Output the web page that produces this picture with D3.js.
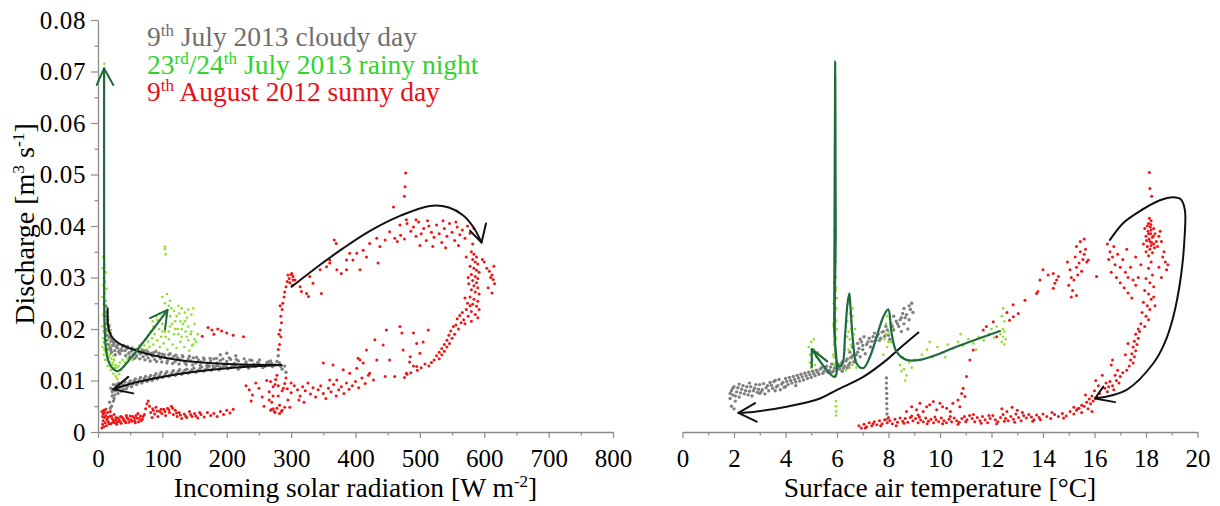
<!DOCTYPE html>
<html><head><meta charset="utf-8">
<script src="https://cdn.jsdelivr.net/npm/d3@7"></script>
<style>
body{margin:0;background:#fff}
</style></head><body>
<svg id="c" width="1220" height="506"></svg>
<script>
// ---------- ticks ----------
const yTicks = [0,0.01,0.02,0.03,0.04,0.05,0.06,0.07,0.08];
const yMinor = [0.005,0.015,0.025,0.035,0.045,0.055,0.065,0.075];
const solarTicks = [0,100,200,300,400,500,600,700,800];
const solarMinor = [50,150,250,350,450,550,650,750];
const tempTicks = [0,2,4,6,8,10,12,14,16,18,20];
const tempMinor = [1,3,5,7,9,11,13,15,17,19];

// ---------- series: solar radiation (W m-2) vs discharge (m3 s-1) ----------
const solarCloudy = [
[12,0.0245],[14,0.0232],[11,0.0225],[15,0.0218],[13,0.0210],[17,0.0205],[12,0.0200],[16,0.0196],[19,0.0192],[14,0.0188],[18,0.0184],[22,0.0180],[13,0.0178],[20,0.0176],[25,0.0172],[16,0.0170],[23,0.0168],[28,0.0166],[19,0.0164],[30,0.0163],[14,0.0160],[26,0.0158],[35,0.0160],[21,0.0155],[32,0.0156],
[38,0.0165],[42,0.0158],[45,0.0162],[48,0.0153],[52,0.0157],[55,0.0150],[58,0.0160],[60,0.0148],[63,0.0155],[66,0.0152],[70,0.0146],[72,0.0158],[75,0.0150],[78,0.0144],[82,0.0153],[85,0.0147],[88,0.0141],[90,0.0156],[94,0.0149],[97,0.0143],[100,0.0151],[104,0.0145],[108,0.0139],[110,0.0150],[114,0.0143],[118,0.0147],[120,0.0137],[124,0.0144],[128,0.0140],[132,0.0146],[135,0.0135],[140,0.0142],[144,0.0138],[148,0.0144],[152,0.0134],[156,0.0140],[160,0.0136],[165,0.0141],[170,0.0133],[175,0.0138],[180,0.0142],[185,0.0134],[190,0.0139],[196,0.0131],[200,0.0137],[206,0.0141],[212,0.0133],[218,0.0138],[224,0.0130],[230,0.0136],[236,0.0140],[242,0.0131],[248,0.0135],[255,0.0129],[262,0.0134],[268,0.0138],[275,0.0130],[282,0.0134],[290,0.0128],
[190,0.0150],[200,0.0153],[214,0.0148],[280,0.0148],[286,0.0122],[292,0.0116],
[20,0.0160],[24,0.0175],[27,0.0150],[31,0.0170],[34,0.0152],[37,0.0158],[40,0.0168],[43,0.0148],[46,0.0166],[49,0.0145],[53,0.0163],[57,0.0143],[61,0.0161],[65,0.0142],[69,0.0159],[73,0.0140],[77,0.0156],[81,0.0138],[86,0.0154],[91,0.0137],[95,0.0153],[99,0.0136],[103,0.0150],[107,0.0134],[112,0.0152],[116,0.0133],[121,0.0149],[126,0.0132],[131,0.0148],[137,0.0131],[142,0.0147],[147,0.0130],[153,0.0145],[159,0.0129],[164,0.0144],[169,0.0128],[174,0.0143],[179,0.0128],[184,0.0143],[189,0.0127],[194,0.0142],[199,0.0127],[204,0.0144],[209,0.0128],[215,0.0141],[221,0.0127],[227,0.0142],[233,0.0127],[239,0.0139],[245,0.0128],[251,0.0140],[258,0.0127],[264,0.0136],[271,0.0127],[278,0.0137],[284,0.0127],
[20,0.0085],[22,0.0078],[24,0.0092],[26,0.0072],[28,0.0088],[25,0.0065],[30,0.0082],[32,0.0095],[34,0.0087],[36,0.0079],[40,0.0090],[44,0.0084],[48,0.0095],[52,0.0088],[56,0.0099],[60,0.0092],[64,0.0101],[68,0.0095],[72,0.0104],[76,0.0098],[80,0.0106],[84,0.0100],[88,0.0109],[92,0.0103],[96,0.0111],[100,0.0106],[105,0.0113],[110,0.0108],[115,0.0115],[120,0.0110],[125,0.0118],[130,0.0112],[135,0.0120],[140,0.0114],[146,0.0121],[152,0.0116],[158,0.0123],[164,0.0118],[170,0.0125],[176,0.0120],[182,0.0126],[188,0.0121],[195,0.0128],[202,0.0123],[210,0.0127],[218,0.0122],[226,0.0129],[234,0.0124],[244,0.0127],[256,0.0125],[266,0.0131],
[22,0.0070],[23,0.0082],[27,0.0080],[29,0.0092],[31,0.0075],[33,0.0090],[37,0.0094],[39,0.0083],[42,0.0097],[46,0.0089],[50,0.0099],[54,0.0093],[58,0.0103],[62,0.0096],[66,0.0106],[70,0.0099],[74,0.0108],[78,0.0101],[82,0.0110],[86,0.0104],[90,0.0113],[94,0.0107],[98,0.0116],[103,0.0109],[107,0.0117],[112,0.0111],[117,0.0119],[122,0.0113],[127,0.0121],[132,0.0115],[138,0.0122],[143,0.0117],[149,0.0124],[155,0.0119],[161,0.0126],[167,0.0121],[173,0.0128],[179,0.0123],[185,0.0129],[192,0.0124],[199,0.0130],[206,0.0125],[214,0.0130],[222,0.0126],[230,0.0132],[240,0.0128],[250,0.0132],[260,0.0128],[270,0.0133],
[18,0.0058],[21,0.0050],[24,0.0060],[19,0.0046]
];
const solarRainy = [
[9.8,0.0715],[8,0.0340],[10,0.0325],[7,0.0318],[12,0.0310],[9,0.0300],[11,0.0292],[8,0.0285],[13,0.0278],[10,0.0270],[7,0.0262],[12,0.0255],[9,0.0248],[14,0.0242],[11,0.0236],[8,0.0228],[16,0.0224],[10,0.0218],[13,0.0212],[7,0.0205],[18,0.0208],[15,0.0200],[9,0.0195],[20,0.0198],[12,0.0190],[17,0.0186],[8,0.0182],[22,0.0185],[14,0.0178],[10,0.0172],[19,0.0170],[7,0.0165],[16,0.0162],[12,0.0156],[9,0.0150],[20,0.0152],[14,0.0146],[24,0.0148],[11,0.0140],[18,0.0136],[22,0.0130],[15,0.0128],[26,0.0125],[20,0.0120],[30,0.0118],[24,0.0113],[28,0.0108],[33,0.0112],[36,0.0120],[40,0.0127],[30,0.0103],
[10,0.0160],[12,0.0170],[14,0.0155],[16,0.0180],[18,0.0150],[9,0.0175],[11,0.0185],[13,0.0195],[15,0.0140],[17,0.0145],[19,0.0158],[21,0.0142],[23,0.0135],[25,0.0140],[27,0.0130],[29,0.0125],[32,0.0128],[34,0.0135],[38,0.0140],
[42,0.0135],[46,0.0142],[50,0.0148],[54,0.0140],[58,0.0152],[62,0.0158],[60,0.0145],[66,0.0162],[70,0.0155],[72,0.0168],[76,0.0160],[78,0.0175],[80,0.0165],[84,0.0182],[86,0.0170],[88,0.0190],[90,0.0158],[92,0.0178],[95,0.0200],[96,0.0165],[98,0.0185],[100,0.0210],[102,0.0172],[104,0.0195],[106,0.0225],[108,0.0160],[110,0.0180],[112,0.0205],[114,0.0240],[116,0.0170],[118,0.0190],[120,0.0215],[122,0.0163],[124,0.0200],[126,0.0230],[128,0.0175],[130,0.0185],[132,0.0210],[134,0.0165],[136,0.0195],[138,0.0222],[140,0.0178],[142,0.0158],[144,0.0190],[146,0.0168],[150,0.0180],
[85,0.0215],[90,0.0225],[95,0.0215],[100,0.0195],[105,0.0185],[110,0.0195],[115,0.0210],[120,0.0200],[125,0.0190],[130,0.0200],[135,0.0215],[140,0.0205],[145,0.0195],[150,0.0210],[112,0.0255],[122,0.0225],[128,0.0215],[138,0.0185],[148,0.0170],[155,0.0190],[152,0.0175],
[100,0.0262],[104,0.0250],[107,0.0268],[110,0.0245],[112,0.0225],[118,0.0235],[125,0.0245],[130,0.0240],[135,0.0232],[140,0.0238],[145,0.0228],[148,0.0240],[104,0.0355],[105,0.0345],[104,0.0360],
[96,0.0230],[92,0.0218],[86,0.0205],[82,0.0195],[78,0.0188],[74,0.0180],[68,0.0172],[64,0.0168],[56,0.0160],[48,0.0155],[44,0.0150]
];
const solarSunny = [
[6,0.0040],[7,0.0030],[8,0.0022],[7,0.0015],[9,0.0010],[8,0.0035],[10,0.0028],[6,0.0008],[11,0.0018],[9,0.0042],[12,0.0032],[13,0.0012],[14,0.0024],[15,0.0038],[16,0.0020],[18,0.0030],[20,0.0016],[22,0.0026],[24,0.0022],[26,0.0018],[28,0.0028],[30,0.0020],[33,0.0024],[36,0.0017],[39,0.0026],[42,0.0021],[45,0.0028],[48,0.0019],[51,0.0024],[54,0.0030],[57,0.0022],[60,0.0027],[63,0.0020],[66,0.0031],[69,0.0025],[72,0.0034],[74,0.0045],[76,0.0055],[78,0.0060],[80,0.0050],[82,0.0038],[84,0.0028],[86,0.0042],[88,0.0035],[90,0.0048],[93,0.0030],[96,0.0040],[99,0.0036],[102,0.0044],[105,0.0032],[108,0.0046],[111,0.0038],[114,0.0050],[117,0.0034],[120,0.0042],[123,0.0030],[126,0.0038],[130,0.0026],[134,0.0035],[138,0.0028],[142,0.0040],[146,0.0030],[150,0.0036],[155,0.0027],[160,0.0034],[165,0.0029],[170,0.0038],[175,0.0032],[180,0.0036],[185,0.0030],[190,0.0040],[195,0.0034],[200,0.0042],[205,0.0037],[210,0.0044],[62,0.0036],[58,0.0018],[44,0.0032],[35,0.0030],[25,0.0034],[19,0.0040],[12,0.0044],[10,0.0038],
[15,0.0028],[17,0.0016],[21,0.0031],[23,0.0019],[27,0.0024],[29,0.0015],[31,0.0027],[34,0.0020],[37,0.0029],[40,0.0023],[43,0.0018],[47,0.0025],[50,0.0031],[53,0.0021],[56,0.0027],[59,0.0032],[64,0.0026],[67,0.0022],[70,0.0030],[85,0.0045],[92,0.0041],[98,0.0044],[104,0.0040],[110,0.0043],[116,0.0046],[122,0.0037],[128,0.0033],[136,0.0031],[144,0.0034],[152,0.0031],[158,0.0038],
[171,0.0203],[177,0.0198],[180,0.0190],[186,0.0200],[192,0.0196],[200,0.0192],[210,0.0188],[162,0.0186],[226,0.0185],
[230,0.0090],[235,0.0082],[240,0.0072],[238,0.0060],[245,0.0095],[250,0.0085],[255,0.0068],[258,0.0050],[262,0.0100],[266,0.0078],[270,0.0058],[272,0.0045],[275,0.0092],[278,0.0110],[280,0.0070],[282,0.0052],[285,0.0040],[288,0.0085],[292,0.0105],[295,0.0062],[298,0.0048],[300,0.0095],[275,0.0038],[268,0.0042],
[282,0.0170],[284,0.0185],[283,0.0198],[285,0.0212],[284,0.0225],[286,0.0238],[287,0.0250],[289,0.0262],[290,0.0272],[292,0.0282],[294,0.0292],[297,0.0298],[300,0.0306],[303,0.0302],[306,0.0295],[298,0.0290],[302,0.0285],[280,0.0160],[281,0.0190],[283,0.0245],
[303,0.0295],[314,0.0282],[324,0.0269],[329,0.0302],[334,0.0289],[345,0.0315],[347,0.0269],[355,0.0321],[360,0.0334],[371,0.0315],[378,0.0308],[386,0.0334],[391,0.0347],[402,0.0347],[407,0.0315],[412,0.0353],[417,0.0340],[422,0.0366],[433,0.0376],[438,0.0360],[446,0.0373],[453,0.0389],[461,0.0376],[469,0.0402],[479,0.0412],[370,0.0366],[367,0.0373],[435,0.0328],[360,0.0328],[386,0.0315],[396,0.0334],[316,0.0273],[327,0.0263],[295,0.0305],[301,0.0308],
[480,0.0405],[486,0.0390],[490,0.0398],[494,0.0380],[498,0.0408],[502,0.0385],[506,0.0395],[510,0.0372],[514,0.0400],[518,0.0388],[522,0.0378],[526,0.0402],[530,0.0385],[534,0.0368],[538,0.0395],[542,0.0380],[546,0.0405],[550,0.0388],[554,0.0372],[558,0.0398],[562,0.0383],[566,0.0392],[570,0.0376],[574,0.0400],[578,0.0386],[582,0.0365],[476,0.0375],[470,0.0382],[465,0.0370],[500,0.0362],[520,0.0360],[540,0.0358],[560,0.0362],[494,0.0412],[512,0.0410],[536,0.0410],[556,0.0408],[584,0.0395],
[478,0.0503],[477,0.0476],[476,0.0458],[459,0.0437],
[580,0.0350],[584,0.0345],[588,0.0340],[582,0.0335],[586,0.0330],[590,0.0326],[578,0.0322],[584,0.0318],[588,0.0314],[592,0.0310],[580,0.0306],[586,0.0302],[590,0.0298],[582,0.0294],[588,0.0290],[576,0.0288],[584,0.0284],[590,0.0280],[580,0.0276],[586,0.0272],[592,0.0268],[578,0.0262],[584,0.0258],[590,0.0254],[582,0.0248],[588,0.0244],[592,0.0238],[580,0.0234],[586,0.0228],[590,0.0222],[572,0.0340],[575,0.0300],[570,0.0260],[574,0.0250],
[604,0.0318],[608,0.0312],[612,0.0305],[614,0.0296],[616,0.0288],[610,0.0300],[606,0.0280],[612,0.0270],[615,0.0322],[600,0.0330],[597,0.0335],
[578,0.0245],[572,0.0238],[566,0.0232],[575,0.0225],[562,0.0226],[568,0.0218],[558,0.0220],[564,0.0212],[556,0.0208],[560,0.0200],[552,0.0205],[548,0.0196],[554,0.0190],[545,0.0188],[550,0.0182],[542,0.0178],[546,0.0172],[538,0.0170],[542,0.0165],[534,0.0162],[538,0.0157],[530,0.0155],[534,0.0150],[526,0.0148],[530,0.0142],[522,0.0140],[518,0.0135],[514,0.0128],[508,0.0132],[502,0.0125],[496,0.0120],[490,0.0128],[486,0.0115],[480,0.0112],[476,0.0106],[484,0.0136],[570,0.0210],[580,0.0215],
[448,0.0198],[469,0.0205],[472,0.0192],[490,0.0192],[495,0.0172],[505,0.0175],[513,0.0198],[430,0.0179],[443,0.0169],[453,0.0140],[474,0.0159],[485,0.0146],[500,0.0153],[417,0.0159],[433,0.0140],[407,0.0140],[422,0.0114],[446,0.0108],[461,0.0108],[479,0.0114],[495,0.0127],[381,0.0121],[391,0.0114],[402,0.0124],[404,0.0143],[412,0.0134],[428,0.0101],[371,0.0101],[360,0.0101],[350,0.0134],[365,0.0130],
[268,0.0098],[272,0.0088],[276,0.0102],[280,0.0090],[286,0.0080],[290,0.0094],[294,0.0084],[300,0.0076],[305,0.0090],[310,0.0082],[314,0.0070],[318,0.0088],[322,0.0080],[326,0.0095],[330,0.0074],[334,0.0086],[338,0.0068],[342,0.0082],[346,0.0090],[350,0.0075],[354,0.0065],[358,0.0085],[362,0.0078],[366,0.0092],[370,0.0070],[374,0.0082],[378,0.0088],[382,0.0075],[386,0.0095],[390,0.0083],[395,0.0090],[400,0.0098],[405,0.0086],[410,0.0105],[415,0.0094],[420,0.0110],[312,0.0062],[320,0.0058],[270,0.0044],[274,0.0040],[278,0.0046],[282,0.0036],[286,0.0042],[290,0.0048],[266,0.0062],[272,0.0070]
];

// ---------- series: air temperature (°C) vs discharge (m3 s-1) ----------
const tempCloudy = [
[1.85,0.0065],[1.9,0.0080],[1.95,0.0072],[2.0,0.0088],[2.05,0.0060],[2.1,0.0078],[2.2,0.0068],[2.3,0.0083],[2.4,0.0074],[2.5,0.0088],[2.6,0.0079],[2.7,0.0070],[2.8,0.0085],[2.9,0.0077],[3.0,0.0092],[3.1,0.0082],[3.2,0.0074],[3.3,0.0090],[3.4,0.0096],[3.5,0.0085],[3.6,0.0100],[3.7,0.0090],[3.8,0.0082],[3.9,0.0096],[4.0,0.0104],[4.1,0.0092],[4.2,0.0100],[4.3,0.0108],[4.4,0.0097],[4.5,0.0105],[4.6,0.0112],[4.7,0.0101],[4.8,0.0109],[4.9,0.0116],[5.0,0.0106],[5.1,0.0113],[2.2,0.0093],[2.6,0.0095],[3.0,0.0075],[3.6,0.0080],[4.0,0.0088],[4.4,0.0090],[1.9,0.0050],[2.0,0.0045],
[1.85,0.0075],[1.95,0.0085],[2.05,0.0070],[2.15,0.0086],[2.25,0.0076],[2.35,0.0090],[2.45,0.0080],[2.55,0.0072],[2.65,0.0088],[2.75,0.0080],[2.85,0.0092],[2.95,0.0083],[3.05,0.0078],[3.15,0.0094],[3.25,0.0086],[3.35,0.0080],[3.45,0.0091],[3.55,0.0098],[3.65,0.0088],[3.75,0.0102],[3.85,0.0093],[3.95,0.0087],[4.05,0.0098],[4.15,0.0106],[4.25,0.0095],[4.35,0.0102],[4.45,0.0110],[4.55,0.0099],[4.65,0.0107],[4.75,0.0114],[4.85,0.0104],[4.95,0.0111],[5.05,0.0118],[5.15,0.0109],[5.25,0.0116],[5.35,0.0122],[5.45,0.0114],[5.55,0.0124],[5.65,0.0116],[5.75,0.0126],[5.85,0.0118],[6.05,0.0126],[6.15,0.0132],[6.25,0.0124],[6.35,0.0138],[6.45,0.0130],[6.55,0.0144],[6.65,0.0136],[6.75,0.0150],[6.85,0.0162],[6.95,0.0175],[7.05,0.0185],[7.15,0.0170],[7.25,0.0182],[7.35,0.0176],[7.45,0.0192],[7.55,0.0185],[7.65,0.0178],[7.75,0.0194],[7.85,0.0186],[7.95,0.0198],[8.15,0.0205],[8.35,0.0210],[8.45,0.0218],[8.55,0.0230],[8.65,0.0222],[8.8,0.0245],[8.95,0.0232],
[5.2,0.0120],[5.3,0.0112],[5.4,0.0125],[5.5,0.0118],[5.6,0.0128],[5.7,0.0120],[5.8,0.0132],[5.9,0.0124],[6.0,0.0130],[6.1,0.0122],[6.2,0.0136],[6.3,0.0128],[6.4,0.0142],[6.5,0.0134],[6.6,0.0148],[6.7,0.0140],[6.8,0.0155],[6.9,0.0146],[7.0,0.0160],[7.1,0.0152],[6.6,0.0165],[6.8,0.0172],[6.9,0.0180],[7.0,0.0168],[7.2,0.0175],[7.3,0.0165],[7.4,0.0185],[7.5,0.0178],[7.6,0.0190],[7.7,0.0182],[6.5,0.0155],[6.2,0.0118],[5.8,0.0116],[6.4,0.0125],
[7.8,0.0195],[7.9,0.0205],[8.0,0.0188],[8.1,0.0210],[8.2,0.0198],[8.3,0.0215],[8.4,0.0205],[8.5,0.0222],[8.6,0.0210],[8.7,0.0228],[8.8,0.0218],[8.85,0.0238],[8.9,0.0250],[8.75,0.0200],[8.5,0.0195],[8.2,0.0225],[8.05,0.0180],[8.6,0.0240],
[7.92,0.0105],[7.92,0.0095],[7.92,0.0085],[7.93,0.0075],[7.93,0.0065],[7.93,0.0055],[7.94,0.0045],[7.94,0.0035],[7.94,0.0025]
];
const tempRainy = [
[5.92,0.0430],[5.93,0.0410],[5.91,0.0390],[5.94,0.0370],[5.92,0.0350],[5.95,0.0330],[5.90,0.0315],[5.96,0.0300],[5.88,0.0290],[5.97,0.0280],[5.90,0.0270],[5.95,0.0260],[5.87,0.0250],[5.98,0.0240],[5.89,0.0230],[5.94,0.0220],[5.86,0.0210],[5.99,0.0200],[5.91,0.0190],[5.96,0.0180],[5.88,0.0170],[5.93,0.0160],[5.85,0.0150],[5.98,0.0140],[5.90,0.0130],[5.95,0.0120],[5.92,0.0110],[5.96,0.0060],[5.95,0.0050],[5.97,0.0040],[5.96,0.0032],
[5.90,0.0125],[5.94,0.0135],[5.88,0.0145],[5.96,0.0155],[5.92,0.0165],[5.89,0.0175],[5.95,0.0185],[5.93,0.0195],[5.87,0.0205],[5.97,0.0215],[5.91,0.0225],[5.93,0.0235],[6.0,0.0260],[5.95,0.0275],
[4.9,0.0165],[4.95,0.0150],[5.0,0.0175],[5.05,0.0140],[5.1,0.0160],[5.15,0.0130],[5.0,0.0125],[5.2,0.0145],[4.95,0.0135],[5.1,0.0180],[5.25,0.0155],
[6.35,0.0120],[6.4,0.0140],[6.45,0.0160],[6.5,0.0180],[6.55,0.0200],[6.4,0.0215],[6.5,0.0230],[6.6,0.0225],[6.65,0.0190],[6.7,0.0150],[6.75,0.0125],[6.45,0.0250],[6.55,0.0170],[6.6,0.0130],[6.3,0.0160],[6.7,0.0200],
[6.4,0.0185],[6.5,0.0145],[6.55,0.0215],[6.6,0.0165],[6.62,0.0240],[6.45,0.0195],[6.5,0.0125],
[7.8,0.0150],[7.85,0.0180],[7.9,0.0210],[7.95,0.0165],[8.0,0.0195],[8.05,0.0220],[8.1,0.0175],[8.15,0.0150],[8.2,0.0200],[7.9,0.0190],[8.0,0.0175],[8.1,0.0200],[7.95,0.0225],
[8.45,0.0130],[8.5,0.0118],[8.55,0.0145],[8.6,0.0122],[8.7,0.0110],[8.8,0.0135],[8.9,0.0125],[9.0,0.0140],[8.65,0.0100],
[9.3,0.0150],[9.5,0.0160],[9.7,0.0145],[9.9,0.0165],[10.1,0.0155],[10.3,0.0170],[10.5,0.0162],[10.7,0.0175],[10.9,0.0168],[11.1,0.0180],[11.3,0.0172],[11.5,0.0185],[11.7,0.0178],[11.9,0.0190],[12.1,0.0183],[9.6,0.0175],[10.2,0.0145],[10.8,0.0190],[11.4,0.0160],[12.0,0.0200],[12.2,0.0205],
[12.4,0.0175],[12.45,0.0185],[12.5,0.0195],[12.55,0.0180],[12.5,0.0170],[12.45,0.0200],[12.35,0.0190],[12.4,0.0225],[12.45,0.0240],[12.5,0.0215]
];
const tempSunny = [
[6.85,0.0012],[6.95,0.0008],[7.05,0.0015],[7.15,0.0010],[7.25,0.0018],[7.35,0.0012],[7.45,0.0020],[7.55,0.0014],[7.65,0.0022],[7.75,0.0016],[7.85,0.0024],[7.95,0.0018],[8.05,0.0022],[8.15,0.0016],[8.25,0.0025],[8.35,0.0019],[8.45,0.0027],[8.55,0.0021],[8.65,0.0026],[8.75,0.0019],[8.85,0.0028],[8.95,0.0022],[9.05,0.0026],[9.15,0.0018],[9.25,0.0024],[9.35,0.0020],[9.45,0.0027],[9.55,0.0021],[9.65,0.0025],[9.75,0.0018],[9.85,0.0024],[9.95,0.0020],[10.05,0.0027],[10.15,0.0022],[10.25,0.0018],[10.35,0.0025],[10.45,0.0020],[10.55,0.0027],[10.65,0.0022],[10.75,0.0019],[10.85,0.0026],[10.95,0.0030],[11.05,0.0024],[11.15,0.0032],[11.25,0.0026],[11.35,0.0020],[11.45,0.0028],[11.55,0.0022],[11.65,0.0030],[11.75,0.0024],[11.85,0.0018],[11.95,0.0026],[12.05,0.0032],[12.15,0.0024],[12.25,0.0020],[12.35,0.0028],[12.45,0.0034],[12.55,0.0026],[12.65,0.0022],[12.75,0.0030],[12.85,0.0025],[12.95,0.0035],[13.05,0.0028],[13.15,0.0022],[13.25,0.0032],[13.35,0.0027],[13.45,0.0034],[13.55,0.0029],[13.65,0.0024],[13.75,0.0033],[13.85,0.0028],[14.0,0.0035],[14.15,0.0030],[14.3,0.0026],[14.45,0.0034],[14.6,0.0030],[14.75,0.0036],[14.9,0.0031],[15.05,0.0040],[15.2,0.0035],[15.35,0.0045],[15.5,0.0038],[12.4,0.0045],[12.6,0.0040],[12.8,0.0048],[13.0,0.0042],
[7.1,0.0008],[7.4,0.0016],[7.7,0.0012],[8.0,0.0028],[8.3,0.0012],[8.6,0.0017],[8.9,0.0031],[9.2,0.0029],[9.5,0.0016],[9.8,0.0029],[10.1,0.0016],[10.4,0.0030],[10.7,0.0015],[11.0,0.0020],[11.3,0.0034],[11.6,0.0017],[11.9,0.0032],[12.2,0.0016],[12.5,0.0021],[12.9,0.0019],[13.2,0.0038],[13.6,0.0021],[13.9,0.0024],[14.35,0.0038],[14.8,0.0027],
[9.09,0.0043],[9.22,0.0056],[9.48,0.0049],[9.74,0.0059],[10.0,0.0056],[10.26,0.0046],[10.5,0.0056],[10.7,0.0062],[10.84,0.0075],[10.9,0.0085],[10.97,0.0069],[10.77,0.0049],[8.7,0.0040],[8.9,0.0049],[9.35,0.0040],[9.87,0.0043],[10.4,0.0040],[9.15,0.0033],[9.6,0.0053],[10.1,0.0049],
[11.03,0.0108],[11.16,0.0140],[11.29,0.0159],[11.68,0.0198],[11.8,0.0205],[12.07,0.0214],[12.2,0.0185],[12.7,0.0217],[12.84,0.0247],[13.04,0.0230],[12.6,0.0232],
[12.85,0.0224],[13.3,0.0256],[13.75,0.0269],[13.8,0.0273],[13.88,0.0295],[14.0,0.0315],[14.2,0.0305],[14.4,0.0308],[14.46,0.0289],[14.6,0.0302],[14.4,0.0279],[14.53,0.0295],
[14.95,0.0330],[15.05,0.0315],[15.1,0.0300],[15.0,0.0285],[15.15,0.0275],[15.2,0.0295],[15.3,0.0320],[15.35,0.0305],[15.25,0.0340],[15.4,0.0328],[15.45,0.0350],[15.55,0.0335],[15.6,0.0345],[15.5,0.0312],[15.65,0.0355],[15.7,0.0330],[15.3,0.0265],[15.1,0.0262],[15.45,0.0370],[15.6,0.0375],[15.3,0.0360],[15.76,0.0334],[16.08,0.0302],
[16.5,0.0365],[16.6,0.0350],[16.55,0.0335],[16.7,0.0340],[16.8,0.0325],[16.65,0.0310],[16.9,0.0345],[17.0,0.0320],[17.1,0.0335],[16.85,0.0300],[17.2,0.0310],[17.0,0.0290],[17.3,0.0300],[17.4,0.0320],[17.15,0.0280],[17.5,0.0295],[17.3,0.0270],[17.6,0.0285],[17.45,0.0260],[17.7,0.0300],[16.75,0.0360],[17.25,0.0355],[17.6,0.0340],[17.8,0.0325],
[17.95,0.0395],[18.0,0.0380],[18.05,0.0400],[18.1,0.0385],[18.15,0.0370],[18.2,0.0392],[18.25,0.0378],[18.3,0.0365],[18.1,0.0405],[18.2,0.0410],[18.05,0.0360],[18.15,0.0355],[18.25,0.0348],[18.35,0.0385],[18.4,0.0370],[18.3,0.0395],[18.0,0.0350],[18.1,0.0342],[18.2,0.0362],[18.12,0.0375],[18.18,0.0385],[18.22,0.0368],[18.08,0.0390],[18.28,0.0380],[18.17,0.0398],[18.02,0.0372],[18.33,0.0358],[18.45,0.0360],[18.5,0.0380],[17.9,0.0365],[18.13,0.0415],[18.19,0.0403],
[18.13,0.0504],[18.15,0.0473],[18.22,0.0458],
[18.55,0.0390],[18.6,0.0370],[18.7,0.0350],[18.75,0.0330],[18.8,0.0315],[18.65,0.0340],[18.85,0.0325],[18.6,0.0300],[18.5,0.0320],
[18.2,0.0330],[18.1,0.0318],[18.25,0.0305],[18.0,0.0298],[18.15,0.0290],[18.3,0.0282],[17.95,0.0275],[18.1,0.0268],[18.2,0.0258],[17.9,0.0252],[18.05,0.0245],[18.15,0.0238],[17.85,0.0232],[18.0,0.0225],[18.1,0.0218],[17.8,0.0210],[17.95,0.0205],[17.7,0.0200],[18.3,0.0262],[18.35,0.0245],
[17.75,0.0195],[17.6,0.0190],[17.7,0.0182],[17.55,0.0176],[17.65,0.0170],[17.5,0.0165],[17.6,0.0158],[17.45,0.0152],[17.55,0.0146],[17.4,0.0140],[17.5,0.0134],[17.35,0.0128],[17.2,0.0150],[17.3,0.0172],[17.25,0.0120],
[17.1,0.0115],[17.0,0.0108],[16.9,0.0120],[16.85,0.0100],[16.95,0.0095],[16.8,0.0110],[16.7,0.0090],[16.75,0.0082],[16.6,0.0098],[16.55,0.0088],[16.5,0.0078],[16.45,0.0095],[16.65,0.0130],[16.7,0.0140],[16.4,0.0085],
[16.2,0.0075],[16.1,0.0068],[16.0,0.0080],[15.9,0.0070],[15.95,0.0060],[15.8,0.0064],[15.85,0.0055],[15.7,0.0058],[15.6,0.0050],[15.75,0.0045],[15.5,0.0052],[15.4,0.0046],[15.3,0.0042],[16.15,0.0090],[16.05,0.0100],[15.65,0.0072],[15.2,0.0048],[16.3,0.0110],[15.9,0.0040]
];

// ---------- hand-drawn hysteresis arrows (data coordinates) ----------
const solarCloudyCurveA = [[15,0.0240],[16,0.0204],[21.3,0.0185],[36.8,0.0169],[73,0.0153],[124.7,0.0140],[202,0.0132],[285,0.0130]];
const solarCloudyCurveB = [[285,0.0130],[202,0.0124],[150,0.0117],[99,0.0107],[57.4,0.0096],[23.8,0.0083]];
const solarCloudyHead = [[47,0.0107],[23.8,0.0083],[54.8,0.0075]];
const solarRainyCurve = [[9.5,0.0706],[9.5,0.040],[9.6,0.025],[10.5,0.0195],[12.5,0.0160],[16,0.0138],[21,0.0126],[26,0.0120],[30,0.0118],[35,0.0121],[108,0.0237]];
const solarRainyHeadTop = [[-2,0.0674],[9.5,0.0706],[23.8,0.0674]];
const solarRainyHead = [[80.7,0.0221],[108,0.0237],[104,0.0199]];
const solarSunnyCurve = [[300.7,0.0282],[340,0.0320],[380,0.0356],[422,0.0390],[470,0.0420],[515.5,0.0439],[545,0.0436],[567,0.0421],[583,0.0398],[595.8,0.0368]];
const solarSunnyHead = [[577.8,0.0391],[595.8,0.0368],[602.7,0.0405]];
const tempCloudyCurve = [[9.16,0.0193],[8.45,0.0163],[7.93,0.0140],[7.02,0.0107],[6.0,0.0082],[5.34,0.0065],[4.04,0.0049],[2.75,0.0039],[2.17,0.0037]];
const tempCloudyHead = [[2.82,0.0056],[2.17,0.0037],[2.88,0.0020]];
const tempRainyCurve = [[12.33,0.0196],[10.51,0.0163],[9.87,0.0150],[9.22,0.0140],[8.70,0.0140],[8.31,0.0156],[8.12,0.0192],[7.99,0.0238],[7.80,0.0224],[7.54,0.0185],[7.28,0.0146],[7.02,0.0124],[6.76,0.0133],[6.63,0.0172],[6.53,0.0237],[6.48,0.0269],[6.41,0.0250],[6.31,0.0185],[6.22,0.0133],[6.11,0.0127],[5.98,0.0140],[5.95,0.040],[5.93,0.0719],[5.905,0.040],[5.89,0.0205],[5.92,0.0107],[5.02,0.0161]];
const tempRainyHead = [[5.02,0.0126],[5.02,0.0161],[5.62,0.0137]];
const tempSunnyCurve = [[16.6,0.0373],[17.1,0.0405],[17.64,0.0425],[18.54,0.0450],[19.06,0.0456],[19.35,0.0452],[19.51,0.0431],[19.5,0.0380],[19.35,0.0300],[19.06,0.0224],[18.7,0.0170],[18.28,0.0133],[17.25,0.0082],[16.02,0.0065]];
const tempSunnyHead = [[16.34,0.0088],[16.02,0.0065],[16.8,0.0058]];

// ---------- drawing ----------
const FONT = "Liberation Serif";
const svg = d3.select('#c');
const y = d3.scaleLinear().domain([0,0.08]).range([432,20]);
const xS = d3.scaleLinear().domain([0,800]).range([98,613]);
const xT = d3.scaleLinear().domain([0,20]).range([682.5,1197.5]);
const AX = '#8a8a8a';
const C_GREY = '#808080', C_GREEN = '#92dd2c', C_RED = '#f01414', C_DKGREEN = '#1d6b3e';

function styleAxis(g, size){
  g.attr('font-family',FONT).attr('font-size',size);
  g.select('.domain').attr('stroke',AX).attr('stroke-width',1.3);
  g.selectAll('.tick line').attr('stroke',AX).attr('stroke-width',1.2);
  g.selectAll('text').style('font-size',size+'px').style('font-family',FONT).style('fill','#000');
}
function xAxis(xs, ticks, minor){
  const g = svg.append('g').attr('transform','translate(0,432)');
  g.call(d3.axisBottom(xs).tickValues(ticks).tickSize(6).tickSizeOuter(0).tickPadding(11).tickFormat(d3.format('d')));
  styleAxis(g, 25);
  const m = svg.append('g').attr('transform','translate(0,432)');
  m.call(d3.axisBottom(xs).tickValues(minor).tickSize(3.5).tickSizeOuter(0).tickFormat(''));
  m.select('.domain').remove();
  m.selectAll('.tick line').attr('stroke',AX).attr('stroke-width',1.2);
}
xAxis(xS, solarTicks, solarMinor);
xAxis(xT, tempTicks, tempMinor);

const gy = svg.append('g').attr('transform','translate(98,0)');
gy.call(d3.axisLeft(y).tickValues(yTicks).tickSize(7).tickSizeOuter(0).tickPadding(5).tickFormat(d=> d===0?'0':d.toFixed(2)));
styleAxis(gy, 25);
gy.selectAll('text').style('letter-spacing','0.6px');
const gym = svg.append('g').attr('transform','translate(98,0)');
gym.call(d3.axisLeft(y).tickValues(yMinor).tickSize(3.5).tickSizeOuter(0).tickFormat(''));
gym.select('.domain').remove();
gym.selectAll('.tick line').attr('stroke',AX).attr('stroke-width',1.2);

// points
function dots(data, xs, color, r){
  svg.append('g').selectAll('circle').data(data).join('circle')
    .attr('cx',d=>xs(d[0])).attr('cy',d=>y(d[1])).attr('r',r).attr('fill',color);
}
dots(solarRainy, xS, C_GREEN, 1.3);
dots(solarCloudy, xS, C_GREY, 1.7);
dots(solarSunny, xS, C_RED, 1.5);
dots(tempRainy, xT, C_GREEN, 1.3);
dots(tempCloudy, xT, C_GREY, 1.7);
dots(tempSunny, xT, C_RED, 1.5);

// curves
function curve(data, xs, color, w, cv){
  const line = d3.line().x(d=>xs(d[0])).y(d=>y(d[1])).curve(cv || d3.curveCatmullRom.alpha(0.5));
  svg.append('path').attr('d',line(data)).attr('fill','none').attr('stroke',color)
    .attr('stroke-width',w).attr('stroke-linejoin','round').attr('stroke-linecap','round');
}
const LIN = d3.curveLinear;
curve(solarCloudyCurveA, xS, '#111', 2);
curve(solarCloudyCurveB, xS, '#111', 2);
curve(solarCloudyHead, xS, '#111', 2, LIN);
curve(solarSunnyCurve, xS, '#111', 2);
curve(solarSunnyHead, xS, '#111', 2, LIN);
curve(solarRainyCurve, xS, C_DKGREEN, 2.2);
curve(solarRainyHeadTop, xS, C_DKGREEN, 2, LIN);
curve(solarRainyHead, xS, C_DKGREEN, 2, LIN);
curve(tempCloudyCurve, xT, '#111', 2);
curve(tempCloudyHead, xT, '#111', 2, LIN);
curve(tempSunnyCurve, xT, '#111', 2);
curve(tempSunnyHead, xT, '#111', 2, LIN);
curve(tempRainyCurve, xT, C_DKGREEN, 2.2);
curve(tempRainyHead, xT, C_DKGREEN, 2.2, LIN);

// text with superscripts
function supText(x, yPos, parts, size, color, anchor, rotate){
  const t = svg.append('text').attr('font-family',FONT).style('font-family',FONT).style('font-size',size+'px')
    .style('fill',color).attr('text-anchor',anchor||'start');
  if(rotate) t.attr('transform',`translate(${x},${yPos}) rotate(-90)`); else t.attr('x',x).attr('y',yPos);
  let up = false;
  parts.forEach(p=>{
    const s = t.append('tspan').text(p[0]);
    if(p[1]){ s.style('font-size',(size*0.62)+'px'); if(!up){ s.attr('dy',-size*0.36); up = true; } }
    else if(up){ s.attr('dy',size*0.36); up = false; }
  });
  return t;
}
supText(355.5, 497, [['Incoming solar radiation [W m'],['-2',1],[']']], 27.5, '#000', 'middle');
supText(940, 497, [['Surface air temperature [°C]']], 27.5, '#000', 'middle');
supText(34, 224, [['Discharge [m'],['3',1],[' s'],['-1',1],[']']], 28, '#000', 'middle', true);

// legend
const legendLabels = [
  {parts:[['9'],['th',1],[' July 2013 cloudy day']], color:'#6f6f6f'},
  {parts:[['23'],['rd',1],['/24'],['th',1],[' July 2013 rainy night']], color:'#30d42c'},
  {parts:[['9'],['th',1],[' August 2012 sunny day']], color:'#e6101a'}
];
legendLabels.forEach((l,i)=> supText(147, 46 + i*27.5, l.parts, 27.5, l.color, 'start'));
</script></body></html>
